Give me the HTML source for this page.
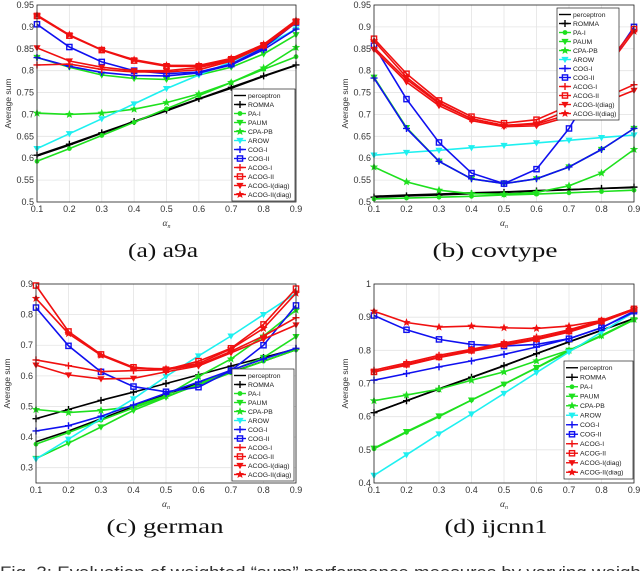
<!DOCTYPE html>
<html><head><meta charset="utf-8"><style>
body{margin:0;background:#fff;width:640px;height:571px;overflow:hidden;font-family:"Liberation Sans",sans-serif}
svg{display:block}
</style></head><body>
<svg id="fig" width="640" height="571" xmlns="http://www.w3.org/2000/svg"></svg>
<script>
const xVals=[0.1,0.2,0.3,0.4,0.5,0.6,0.7,0.8,0.9];
const seriesNames=["perceptron","ROMMA","PA-I","PAUM","CPA-PB","AROW","COG-I","COG-II","ACOG-I","ACOG-II","ACOG-I(diag)","ACOG-II(diag)"];
const seriesColors=["#000","#000","#1ee01e","#1ee01e","#1ee01e","#1ef0f0","#1010f0","#1010f0","#f01010","#f01010","#f01010","#f01010"];
const seriesMarkers=["none","plus","circle","tri","star","tri","plus","square","plus","square","tri","star"];
const dataA=[
[0.605,0.63,0.657,0.683,0.708,0.735,0.76,0.787,0.812],
[0.607,0.632,0.658,0.684,0.71,0.736,0.762,0.788,0.813],
[0.593,0.622,0.652,0.682,0.713,0.743,0.773,0.803,0.832],
[0.83,0.808,0.79,0.782,0.78,0.79,0.808,0.838,0.882],
[0.703,0.7,0.703,0.712,0.727,0.747,0.773,0.806,0.853],
[0.622,0.656,0.69,0.724,0.759,0.79,0.82,0.855,0.895],
[0.83,0.81,0.796,0.789,0.788,0.795,0.813,0.848,0.895],
[0.906,0.854,0.82,0.8,0.793,0.797,0.815,0.852,0.91],
[0.813,0.815,0.803,0.797,0.797,0.802,0.822,0.856,0.91],
[0.925,0.88,0.847,0.823,0.81,0.81,0.826,0.858,0.912],
[0.852,0.822,0.808,0.8,0.8,0.807,0.824,0.856,0.91],
[0.927,0.882,0.848,0.825,0.812,0.812,0.828,0.86,0.915]];
const dataB=[
[0.513,0.516,0.518,0.521,0.523,0.526,0.528,0.531,0.533],
[0.511,0.514,0.516,0.519,0.522,0.525,0.528,0.531,0.534],
[0.507,0.509,0.511,0.513,0.516,0.518,0.521,0.524,0.527],
[0.785,0.67,0.593,0.553,0.542,0.553,0.58,0.62,0.668],
[0.58,0.546,0.527,0.519,0.518,0.522,0.537,0.566,0.62],
[0.607,0.613,0.618,0.624,0.629,0.635,0.641,0.647,0.653],
[0.783,0.668,0.593,0.553,0.542,0.553,0.58,0.62,0.668],
[0.857,0.735,0.636,0.566,0.542,0.575,0.668,0.79,0.9],
[0.853,0.78,0.725,0.69,0.675,0.678,0.7,0.735,0.768],
[0.873,0.793,0.732,0.695,0.68,0.688,0.72,0.8,0.895],
[0.848,0.774,0.72,0.686,0.672,0.674,0.695,0.725,0.755],
[0.868,0.785,0.727,0.69,0.675,0.68,0.71,0.79,0.89]];
const dataC=[
[0.385,0.42,0.46,0.5,0.54,0.575,0.612,0.648,0.685],
[0.46,0.49,0.52,0.547,0.575,0.603,0.632,0.66,0.688],
[0.377,0.415,0.455,0.495,0.533,0.57,0.61,0.648,0.685],
[0.33,0.38,0.433,0.487,0.53,0.573,0.617,0.66,0.728],
[0.49,0.48,0.487,0.5,0.535,0.598,0.655,0.73,0.815],
[0.328,0.393,0.46,0.525,0.598,0.665,0.73,0.8,0.87],
[0.42,0.437,0.468,0.505,0.543,0.58,0.618,0.655,0.69],
[0.823,0.698,0.613,0.565,0.548,0.563,0.617,0.7,0.83],
[0.652,0.633,0.614,0.617,0.62,0.635,0.68,0.73,0.79],
[0.895,0.745,0.67,0.628,0.62,0.648,0.69,0.768,0.885],
[0.635,0.603,0.59,0.592,0.613,0.632,0.675,0.72,0.766],
[0.853,0.738,0.667,0.625,0.623,0.64,0.688,0.755,0.87]];
const dataD=[
[0.612,0.648,0.683,0.718,0.753,0.79,0.825,0.86,0.895],
[0.612,0.648,0.684,0.719,0.754,0.79,0.826,0.861,0.896],
[0.503,0.553,0.6,0.65,0.698,0.747,0.797,0.845,0.893],
[0.505,0.555,0.602,0.65,0.698,0.748,0.8,0.843,0.892],
[0.648,0.665,0.683,0.71,0.735,0.768,0.8,0.845,0.893],
[0.423,0.485,0.548,0.608,0.67,0.733,0.795,0.855,0.915],
[0.71,0.73,0.75,0.768,0.788,0.81,0.835,0.868,0.915],
[0.905,0.862,0.833,0.818,0.813,0.818,0.835,0.868,0.918],
[0.74,0.762,0.785,0.803,0.822,0.84,0.862,0.89,0.925],
[0.735,0.758,0.78,0.8,0.818,0.835,0.858,0.888,0.925],
[0.735,0.755,0.778,0.797,0.815,0.832,0.855,0.885,0.922],
[0.918,0.884,0.87,0.873,0.868,0.866,0.873,0.89,0.925]];
const ticksA=[0.5,0.55,0.6,0.65,0.7,0.75,0.8,0.85,0.9,0.95];
const ticksC=[0.3,0.4,0.5,0.6,0.7,0.8,0.9];
const ticksD=[0.4,0.5,0.6,0.7,0.8,0.9,1];
const panels=[
{id:"a",data:dataA,L:37,R:296,T:5,B:202,ymin:0.5,ymax:0.95,ticks:ticksA,lg:[232,89,63,112],cap:"(a) a9a",cx:163,cy:257,cw:70},
{id:"b",data:dataB,L:374,R:634,T:5,B:202,ymin:0.5,ymax:0.95,ticks:ticksA,lg:[557,8,62,112],cap:"(b) covtype",cx:495,cy:257,cw:125},
{id:"c",data:dataC,L:36,R:296,T:284,B:483,ymin:0.25,ymax:0.9,ticks:ticksC,lg:[232,369,62,112],cap:"(c) german",cx:165,cy:533,cw:117},
{id:"d",data:dataD,L:374,R:634,T:284,B:483,ymin:0.4,ymax:1,ticks:ticksD,lg:[564,361,69,118],cap:"(d) ijcnn1",cx:496,cy:533,cw:103}];
const NS="http://www.w3.org/2000/svg";
const svg=document.getElementById("fig");
function mk(tag,attrs,parent){const e=document.createElementNS(NS,tag);for(const k in attrs)e.setAttribute(k,attrs[k]);(parent||svg).appendChild(e);return e;}
function marker(g,type,x,y,c){
 let e;
 if(type==="plus"){e=mk("path",{d:`M${x-3.5},${y}H${x+3.5}M${x},${y-3.5}V${y+3.5}`,stroke:c,"stroke-width":1.4,fill:"none"},g);}
 else if(type==="circle"){e=mk("circle",{cx:x,cy:y,r:2.4,fill:c},g);}
 else if(type==="tri"){e=mk("path",{d:`M${x-3.6},${y-2.6}L${x+3.6},${y-2.6}L${x},${y+3.6}Z`,fill:c},g);}
 else if(type==="square"){e=mk("rect",{x:x-2.6,y:y-2.6,width:5.2,height:5.2,fill:"none",stroke:c,"stroke-width":1.4},g);}
 else if(type==="star"){let p="";for(let i=0;i<10;i++){const r=i%2?1.9:4.4;const a=-Math.PI/2+i*Math.PI/5;p+=(i?"L":"M")+(x+r*Math.cos(a)).toFixed(2)+","+(y+r*Math.sin(a)).toFixed(2);}e=mk("path",{d:p+"Z",fill:c},g);}
 if(e){}
}
panels.forEach(p=>{
 const g=mk("g",{});
 
 
 const xs=v=>p.L+(v-0.1)/0.8*(p.R-p.L);
 const ys=v=>p.B-(v-p.ymin)/(p.ymax-p.ymin)*(p.B-p.T);
 mk("rect",{x:p.L,y:p.T,width:p.R-p.L,height:p.B-p.T,fill:"#fff"},g);
 xVals.forEach(v=>{mk("line",{x1:xs(v),x2:xs(v),y1:p.T,y2:p.B,stroke:"#e4e4e4","stroke-width":0.8},g);
  const t=mk("text",{x:xs(v),y:p.B+10,"font-size":9,"text-anchor":"middle",fill:"#333"},g);t.textContent=v.toFixed(1);
  });
 p.ticks.forEach(v=>{mk("line",{x1:p.L,x2:p.R,y1:ys(v),y2:ys(v),stroke:"#e4e4e4","stroke-width":0.8},g);
  const t=mk("text",{x:p.L-3,y:ys(v)+3,"font-size":9,"text-anchor":"end",fill:"#333"},g);t.textContent=String(v);
  });
 const yl=mk("text",{x:0,y:0,"font-size":8.5,"text-anchor":"middle",fill:"#333",transform:`translate(${p.L-26},${(p.T+p.B)/2}) rotate(-90)`},g);yl.textContent="Average sum";
 
 const xl=mk("text",{x:(p.L+p.R)/2,y:p.B+24,"font-size":9.5,"text-anchor":"middle",fill:"#333","font-family":"Liberation Serif,serif","font-style":"italic"},g);xl.innerHTML='α<tspan font-size="6" dy="2">n</tspan>';
 
 p.data.forEach((s,i)=>{
  const sg=mk("g",{},g);
  
  
  const pts=s.map((v,j)=>xs(xVals[j]).toFixed(1)+","+ys(v).toFixed(1)).join(" ");
  mk("polyline",{points:pts,fill:"none",stroke:seriesColors[i],"stroke-width":1.6},sg);
  s.forEach((v,j)=>marker(sg,seriesMarkers[i],xs(xVals[j]),ys(v),seriesColors[i]));
 });
 mk("rect",{x:p.L,y:p.T,width:p.R-p.L,height:p.B-p.T,fill:"none",stroke:"#222","stroke-width":0.8},g);
 const [lx,ly,lw,lh]=p.lg;
 const lgG=mk("g",{},g);
 
 mk("rect",{x:lx,y:ly,width:lw,height:lh,fill:"#fff",stroke:"#222","stroke-width":0.7},lgG);
 const step=(lh-4)/12;
 seriesNames.forEach((n,i)=>{
  const ry=ly+2+step*(i+0.5);
  const eg=mk("g",{},lgG);
  
  mk("line",{x1:lx+2,x2:lx+14,y1:ry,y2:ry,stroke:seriesColors[i],"stroke-width":1.4},eg);
  marker(eg,seriesMarkers[i],lx+8,ry,seriesColors[i]);
  const t=mk("text",{x:lx+16,y:ry+2.4,"font-size":6.8,fill:"#222"},eg);t.textContent=n;
 });
 const cap=mk("text",{x:p.cx-p.cw/2,y:p.cy,"font-size":20,fill:"#111","font-family":"Liberation Serif,serif",textLength:p.cw,lengthAdjust:"spacingAndGlyphs"},g);cap.textContent=p.cap;
 
});
const fc=mk("text",{x:0,y:578,"font-size":17,fill:"#333",textLength:646,lengthAdjust:"spacingAndGlyphs"});
fc.textContent="Fig. 3: Evaluation of weighted \u201csum\u201d performance measures by varying weight";

</script>
</body></html>
